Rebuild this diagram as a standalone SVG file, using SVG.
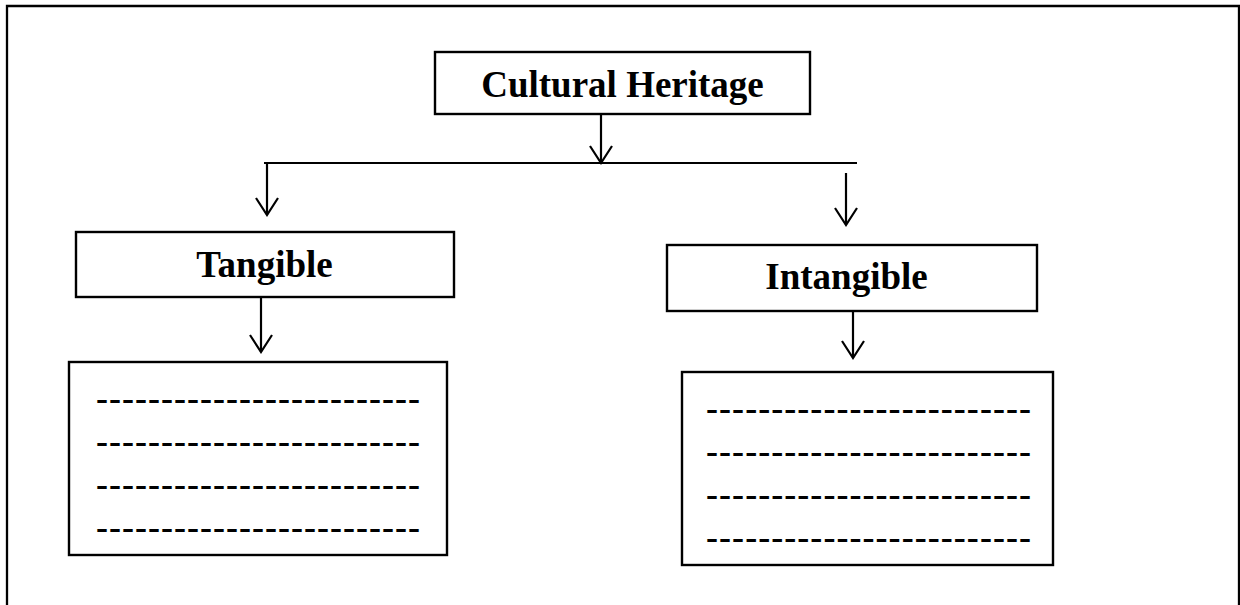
<svg xmlns="http://www.w3.org/2000/svg" width="1240" height="605" viewBox="0 0 1240 605">
<style>
.box{fill:#fff;stroke:#000;stroke-width:2.4}
.lbl{font-family:"Liberation Serif","Times New Roman",serif;font-weight:bold;font-size:37px;fill:#000;text-anchor:middle}
.dash{font-family:"Liberation Serif","Times New Roman",serif;font-weight:bold;font-size:36px;fill:#000}
.ln{stroke:#000;stroke-width:2.2;fill:none}
</style>
<defs>
<marker id="ah" markerWidth="20" markerHeight="24" refX="18" refY="12" orient="auto" markerUnits="userSpaceOnUse" viewBox="0 0 20 24">
<path d="M1,1 L18,12 L1,23" fill="none" stroke="#000" stroke-width="2.2"/>
</marker>
</defs>
<rect width="1240" height="605" fill="#fff"/>
<path d="M7,605 L7,6 L1239,6 L1239,605" fill="none" stroke="#000" stroke-width="2.3"/>
<g id="connectors">
<line class="ln" x1="601" y1="114" x2="601" y2="163" marker-end="url(#ah)"/>
<line class="ln" x1="264" y1="163" x2="857" y2="163"/>
<line class="ln" x1="267" y1="163" x2="267" y2="215" marker-end="url(#ah)"/>
<line class="ln" x1="846" y1="173" x2="846" y2="225" marker-end="url(#ah)"/>
<line class="ln" x1="261" y1="297" x2="261" y2="352" marker-end="url(#ah)"/>
<line class="ln" x1="853" y1="300" x2="853" y2="358" marker-end="url(#ah)"/>
</g>
<g id="cultural-heritage">
<rect class="box" x="435" y="52" width="375" height="62"/>
<text class="lbl" x="622.5" y="97">Cultural Heritage</text>
</g>
<g id="tangible">
<rect class="box" x="76" y="232" width="378" height="65"/>
<text class="lbl" x="264.5" y="277">Tangible</text>
</g>
<g id="intangible">
<rect class="box" x="667" y="245" width="370" height="66"/>
<text class="lbl" x="846.5" y="289">Intangible</text>
</g>
<g id="tangible-list">
<rect class="box" x="69" y="362" width="378" height="193"/>
<text class="dash" x="96" y="410" textLength="324" lengthAdjust="spacing">-------------------------</text>
<text class="dash" x="96" y="453" textLength="324" lengthAdjust="spacing">-------------------------</text>
<text class="dash" x="96" y="496" textLength="324" lengthAdjust="spacing">-------------------------</text>
<text class="dash" x="96" y="539" textLength="324" lengthAdjust="spacing">-------------------------</text>
</g>
<g id="intangible-list">
<rect class="box" x="682" y="372" width="371" height="193"/>
<text class="dash" x="706" y="420" textLength="325" lengthAdjust="spacing">-------------------------</text>
<text class="dash" x="706" y="463" textLength="325" lengthAdjust="spacing">-------------------------</text>
<text class="dash" x="706" y="506" textLength="325" lengthAdjust="spacing">-------------------------</text>
<text class="dash" x="706" y="549" textLength="325" lengthAdjust="spacing">-------------------------</text>
</g>
</svg>
